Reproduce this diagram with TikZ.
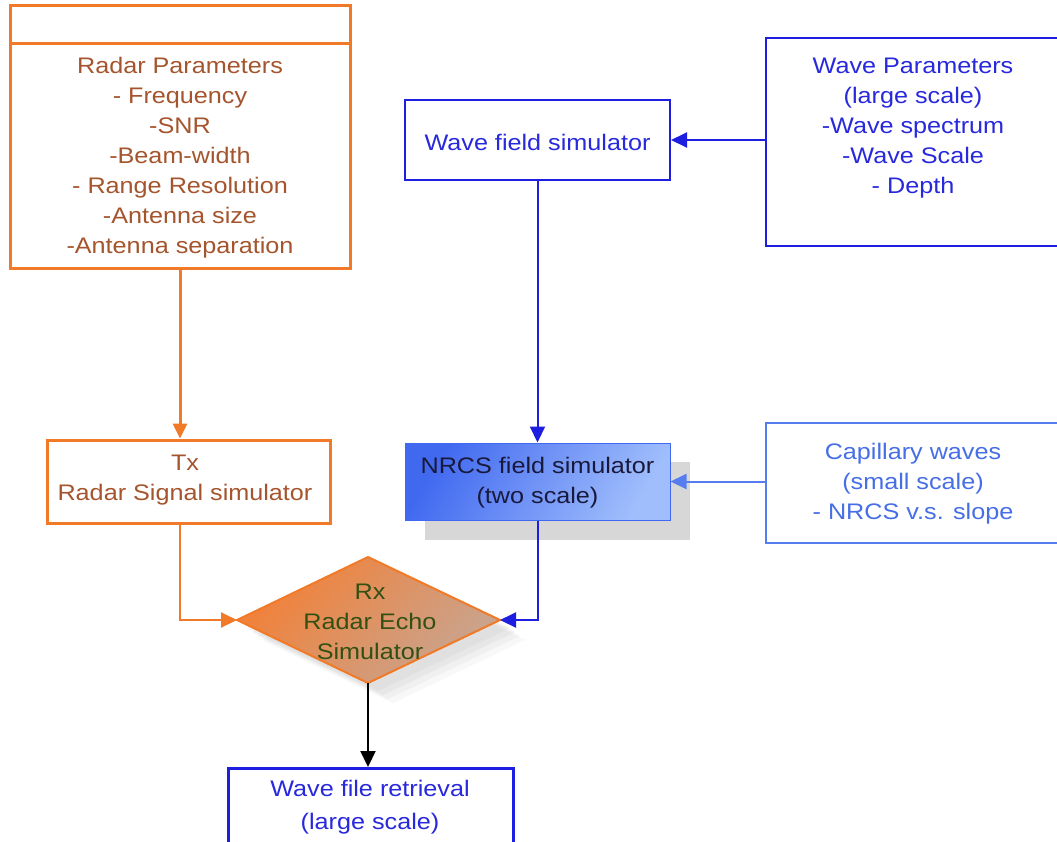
\documentclass[tikz,border=0pt]{standalone}
\usepackage{fontspec}
\setmainfont[FakeStretch=1.12]{Liberation Sans}
\usetikzlibrary{arrows.meta,shapes.geometric}
\definecolor{orng}{RGB}{240,122,40}
\definecolor{brn}{RGB}{165,85,45}
\definecolor{blu}{RGB}{30,30,225}
\definecolor{bltxt}{RGB}{40,40,220}
\definecolor{lblu}{RGB}{85,125,240}
\definecolor{lbltxt}{RGB}{70,110,230}
\definecolor{nrcsA}{RGB}{65,105,240}
\definecolor{nrcsB}{RGB}{160,190,252}
\definecolor{dmA}{RGB}{242,128,55}
\definecolor{dmB}{RGB}{200,165,145}
\definecolor{dgreen}{RGB}{50,80,20}
\definecolor{shd}{RGB}{215,215,215}
\tikzset{
  txt/.style={font=\fontsize{22.5}{30}\selectfont, align=center, inner sep=0pt},
  obox/.style={draw=orng, line width=3pt},
  bbox/.style={draw=blu, line width=2pt},
  tip/.style={-{Triangle[length=16pt,width=15pt]}},
}
\begin{document}
\begin{tikzpicture}[x=1pt,y=-1pt]
\useasboundingbox[fill=white] (0,0) rectangle (1057,841);
% shadows
\fill[shd] (425,462) rectangle (690,540);
\foreach \o/\a in {10/0.2,15/0.2,20/0.15,25/0.12}{
  \fill[black!22, opacity=\a] (237+\o,620+\o*0.8) -- (368+\o,557+\o*0.8) -- (500+\o,620+\o*0.8) -- (368+\o,683+\o*0.8) -- cycle;
}
% Radar parameters box
\draw[obox] (10,5) rectangle (350,268);
\draw[obox] (10,43) -- (350,43);
\node[txt, text=brn] (radar) at (180,158) {Radar Parameters\\- Frequency\\-SNR\\-Beam-width\\- Range Resolution\\-Antenna size\\-Antenna separation};
\coordinate (radarb) at (180,268);
% Tx box
\node[obox, minimum width=283pt, minimum height=83pt, inner sep=0pt] (tx) at (188.5,481.5) {};
\node[txt, text=brn] (txt) at (185,480) {Tx\\Radar Signal simulator};
% Wave field simulator
\node[bbox, minimum width=265pt, minimum height=80pt, inner sep=0pt] (wfs) at (537.5,140) {};
\node[txt, text=bltxt] at (537.5,142) {Wave field simulator};
% Wave parameters
\node[bbox, minimum width=300pt, minimum height=208pt, inner sep=0pt, anchor=north west] (wp) at (765,37) {};
\node[txt, text=bltxt] at (913,128) {Wave Parameters\\(large scale)\\-Wave spectrum\\-Wave Scale\\- Depth};
% NRCS
\node[draw=nrcsA, line width=1pt, left color=nrcsA, right color=nrcsB, shading angle=60, minimum width=265pt, minimum height=77pt, inner sep=0pt] (nrcs) at (537.5,481.5) {};
\node[txt, text={rgb,255:red,25;green,25;blue,60}] at (537.5,483) {NRCS field simulator\\(two scale)};
% Capillary
\node[draw=lblu, line width=1.5pt, minimum width=300pt, minimum height=120pt, inner sep=0pt, anchor=north west] (cap) at (765,422) {};
\node[txt, text=lbltxt] at (913,483.5) {Capillary waves\\(small scale)\\- NRCS v.s. slope};
% Diamond
\path[draw=orng, line width=2pt, left color=dmA, right color=dmB, shading angle=45] (237,620) -- (368,557) -- (500,620) -- (368,683) -- cycle;
\coordinate (dl) at (237,620);
\coordinate (dr) at (500,620);
\coordinate (db) at (368,683);
\node[txt, text=dgreen] (rx) at (370,621.5) {Rx\\Radar Echo\\Simulator};
% Wave file retrieval
\node[draw=blu, line width=3pt, minimum width=285pt, minimum height=90pt, inner sep=0pt, anchor=north west] (wfr) at (227,767) {};
\node[txt, text=bltxt, font=\fontsize{22.5}{33}\selectfont] at (370,807.5) {Wave file retrieval\\(large scale)};
% connectors
\draw[draw=orng, line width=3pt, -{Triangle[length=15pt,width=14pt]}] (radarb) -- (radarb |- tx.north);
\draw[tip, draw=blu, line width=2pt] (wp.west |- wfs.east) -- (wfs.east);
\draw[tip, draw=blu, line width=2pt] (wfs.south) -- (nrcs.north);
\draw[tip, draw=lblu, line width=2pt] (cap.west |- nrcs.east) -- (nrcs.east);
\draw[tip, draw=orng, line width=2pt] (tx.south -| radarb) |- (dl);
\draw[tip, draw=blu, line width=2pt] (nrcs.south) |- (dr);
\draw[tip, draw=black, line width=2pt] (db) -- (wfr.north -| db);
\end{tikzpicture}
\end{document}
